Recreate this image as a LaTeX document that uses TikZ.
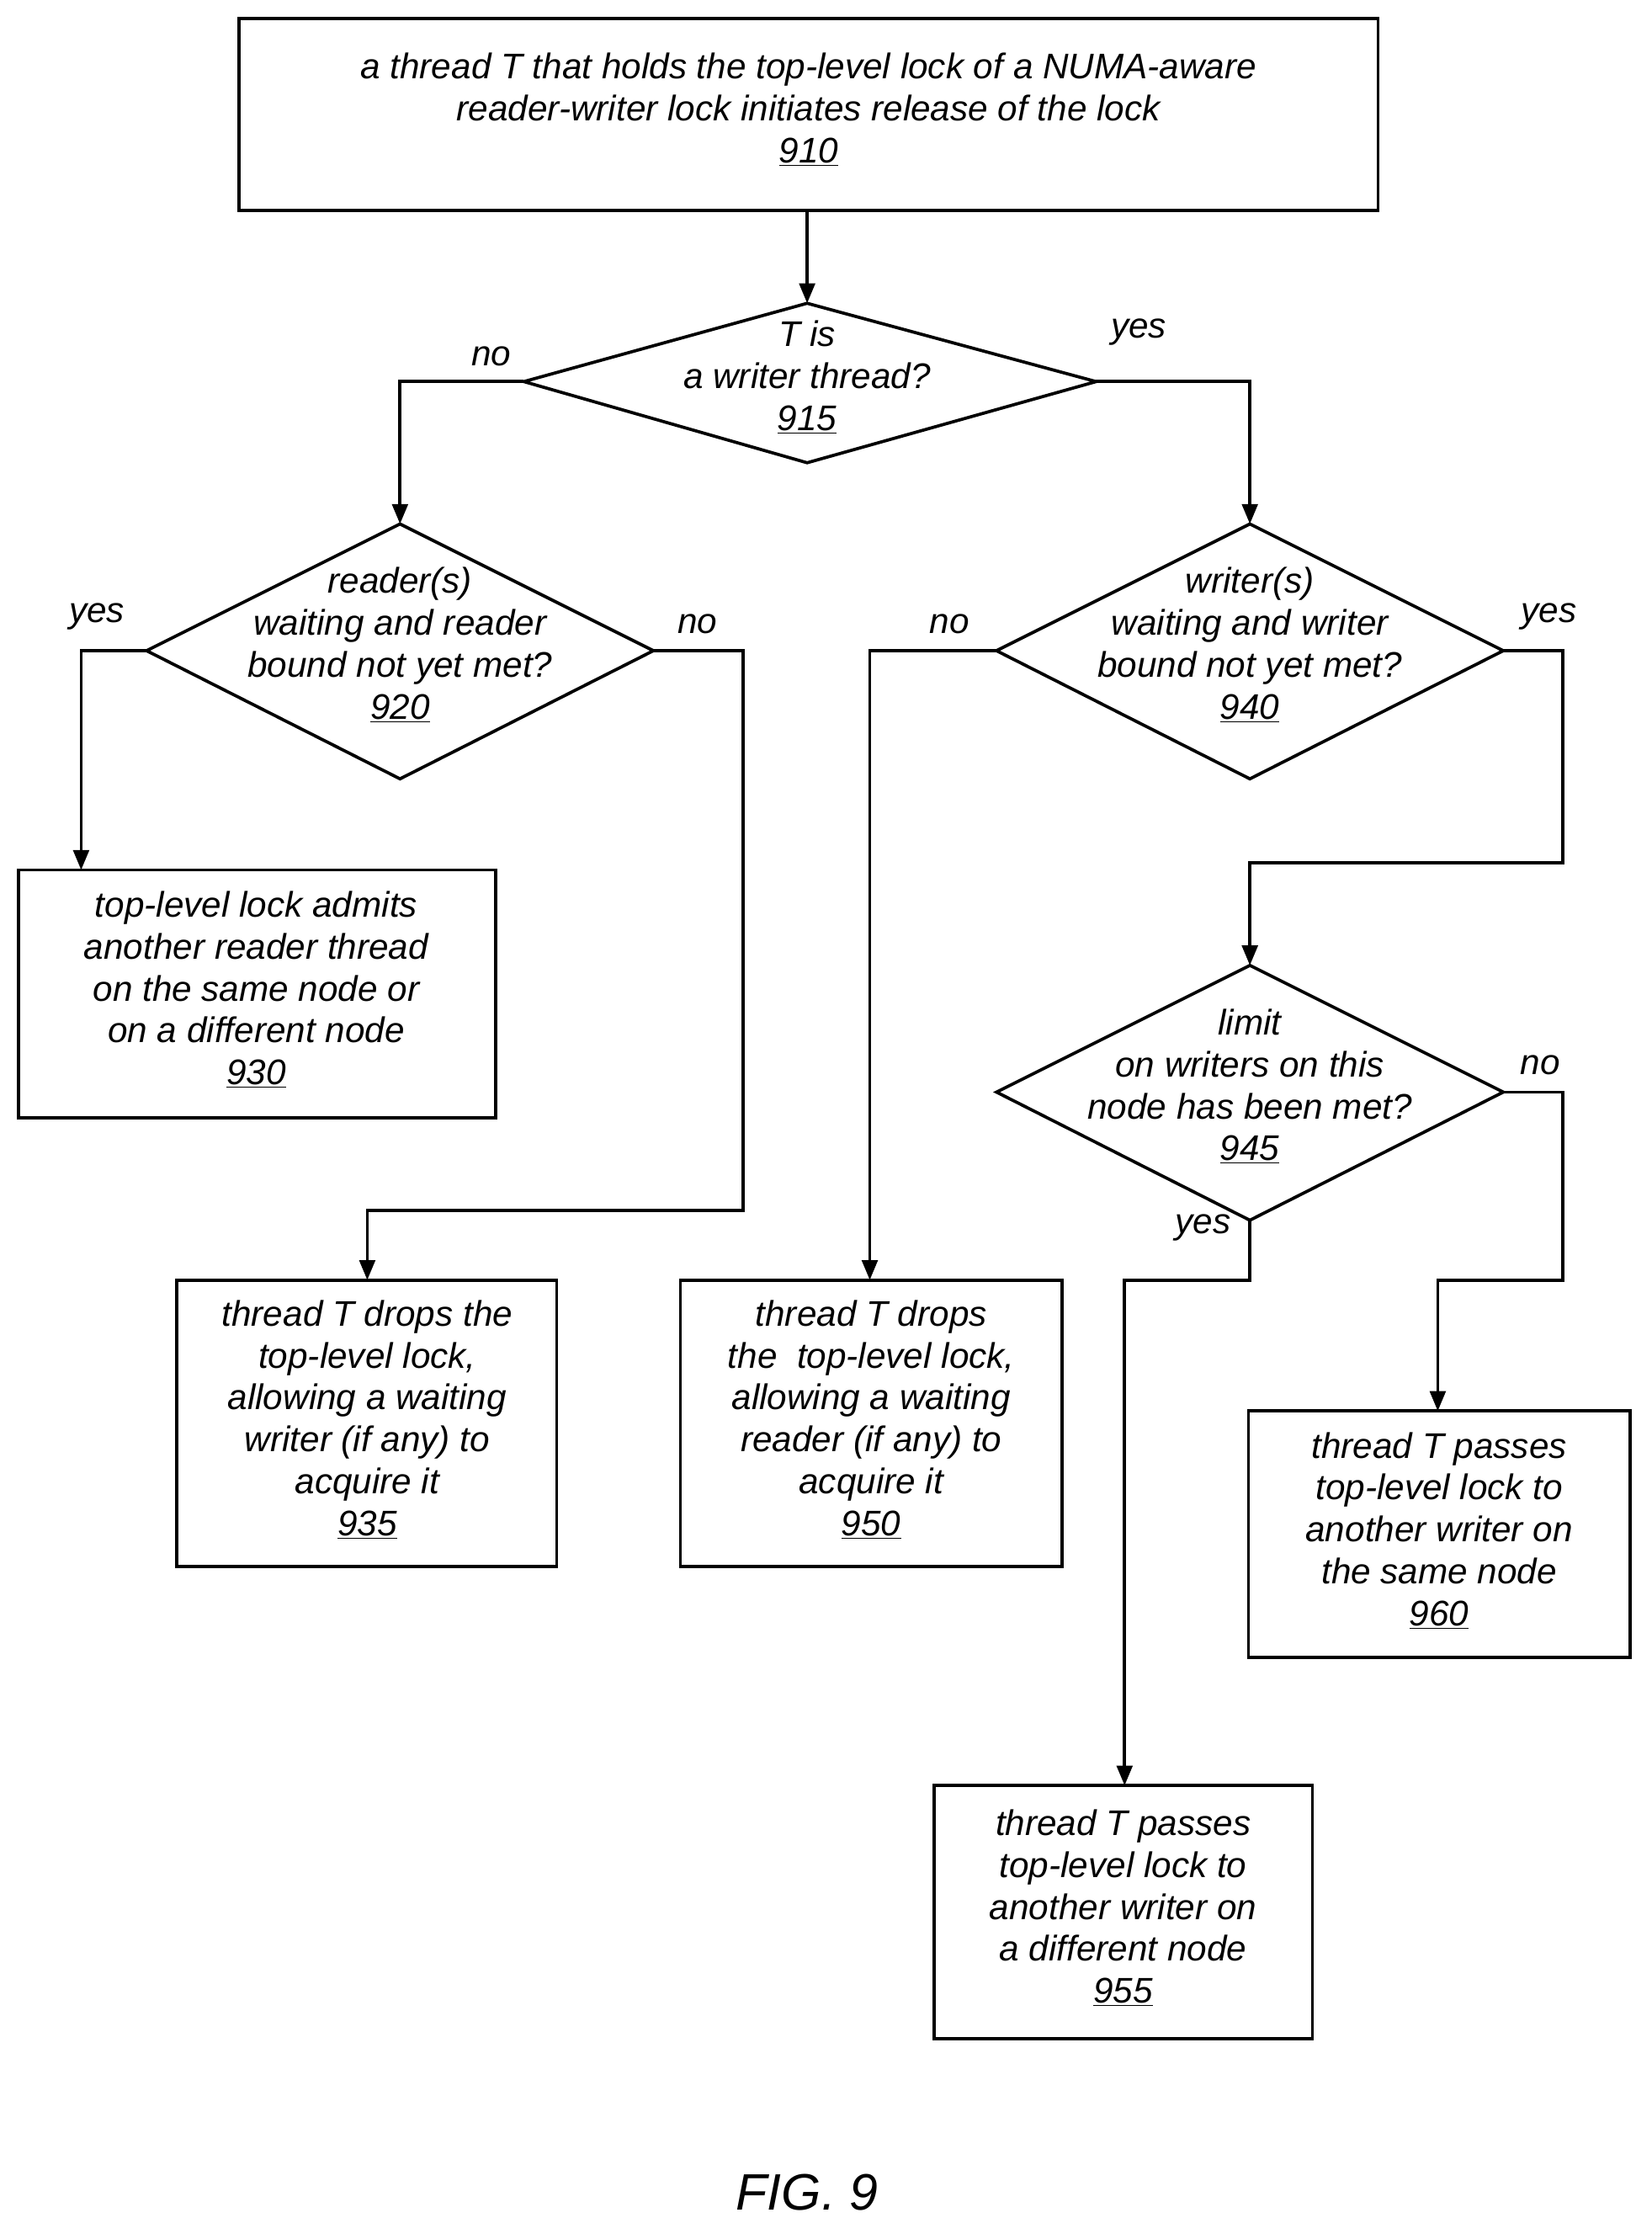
\documentclass[tikz,border=0pt]{standalone}
\usepackage{fontspec}
\setmainfont{Liberation Sans}
\usetikzlibrary{shapes.geometric,arrows.meta}
\begin{document}
\begin{tikzpicture}[x=1pt,y=-1pt,
  every node/.style={font=\fontsize{25}{29.5}\selectfont\itshape, align=center, inner sep=0pt},
  box/.style={draw, line width=2.2pt, minimum width=#1},
  dia/.style={draw, diamond, line width=2.2pt, aspect=2},
  ln/.style={line width=2.2pt},
  ar/.style={line width=2.2pt,-{Triangle[length=14pt,width=11pt]}},
  lab/.style={font=\fontsize{25}{29}\selectfont\itshape}]
\useasboundingbox (0,0) rectangle (1160,1569);
\draw[box] (168,13) rectangle (968,148);
\node (t910) at (568,77) {a thread T that holds the top-level lock of a NUMA-aware\\reader-writer lock initiates release of the lock\\\underline{910}};
\coordinate (b910) at (567,148);
\draw[ln] (368,268) coordinate (l915) -- (567,213) coordinate (t915) -- (770,268) coordinate (r915) -- (567,325) -- cycle;
\node (n915) at (567,265) {T is\\a writer thread?\\\underline{915}};
\draw[ln] (103,457) coordinate (l920) -- (281,368) coordinate (t920) -- (459,457) coordinate (r920) -- (281,547) -- cycle;
\node (n920) at (281,453) {reader(s)\\waiting and reader\\bound not yet met?\\\underline{920}};
\draw[ln] (700,457) coordinate (l940) -- (878,368) coordinate (t940) -- (1056,457) coordinate (r940) -- (878,547) -- cycle;
\node (n940) at (878,453) {writer(s)\\waiting and writer\\bound not yet met?\\\underline{940}};
\draw[ln] (700,767) coordinate (l945) -- (878,678) coordinate (t945) -- (1056,767) coordinate (r945) -- (878,857) coordinate (b945) -- cycle;
\node (n945) at (878,763) {limit\\on writers on this\\node has been met?\\\underline{945}};
\draw[box] (13,611) rectangle (348,785);
\node (n930) at (180,695) {top-level lock admits\\another reader thread\\on the same node or\\on a different node\\\underline{930}};
\draw[box] (124,899) rectangle (391,1100);
\node (n935) at (258,997) {thread T drops the\\top-level lock,\\allowing a waiting\\writer (if any) to\\acquire it\\\underline{935}};
\draw[box] (478,899) rectangle (746,1100);
\node (n950) at (612,997) {thread T drops\\the\ \ top-level lock,\\allowing a waiting\\reader (if any) to\\acquire it\\\underline{950}};
\draw[box] (877,991) rectangle (1145,1164);
\node (n960) at (1011,1075) {thread T passes\\top-level lock to\\another writer on\\the same node\\\underline{960}};
\draw[box] (656,1254) rectangle (922,1432);
\node (n955) at (789,1340) {thread T passes\\top-level lock to\\another writer on\\a different node\\\underline{955}};
\node (fig) at (567,1540) {\fontsize{36}{40}\selectfont FIG. 9};
\draw[ar] (b910) -- (t915);
\draw[ar] (l915) -- (281,268) -- (t920);
\draw[ar] (r915) -- (878,268) -- (t940);
\draw[ar] (l920) -- (57,457) -- (57,611);
\draw[ar] (r920) -- (522,457) -- (522,850) -- (258,850) -- (258,899);
\draw[ar] (l940) -- (611,457) -- (611,899);
\draw[ar] (r940) -- (1098,457) -- (1098,606) -- (878,606) -- (t945);
\draw[ar] (r945) -- (1098,767) -- (1098,899) -- (1010,899) -- (1010,991);
\draw[ar] (b945) -- (878,899) -- (790,899) -- (790,1254);
\node[lab] at (345,250) {no};
\node[lab] at (800,233) {yes};
\node[lab] at (68,433) {yes};
\node[lab] at (490,438) {no};
\node[lab] at (667,438) {no};
\node[lab] at (1088,433) {yes};
\node[lab] at (1082,748) {no};
\node[lab] at (845,862) {yes};
\end{tikzpicture}
\end{document}
